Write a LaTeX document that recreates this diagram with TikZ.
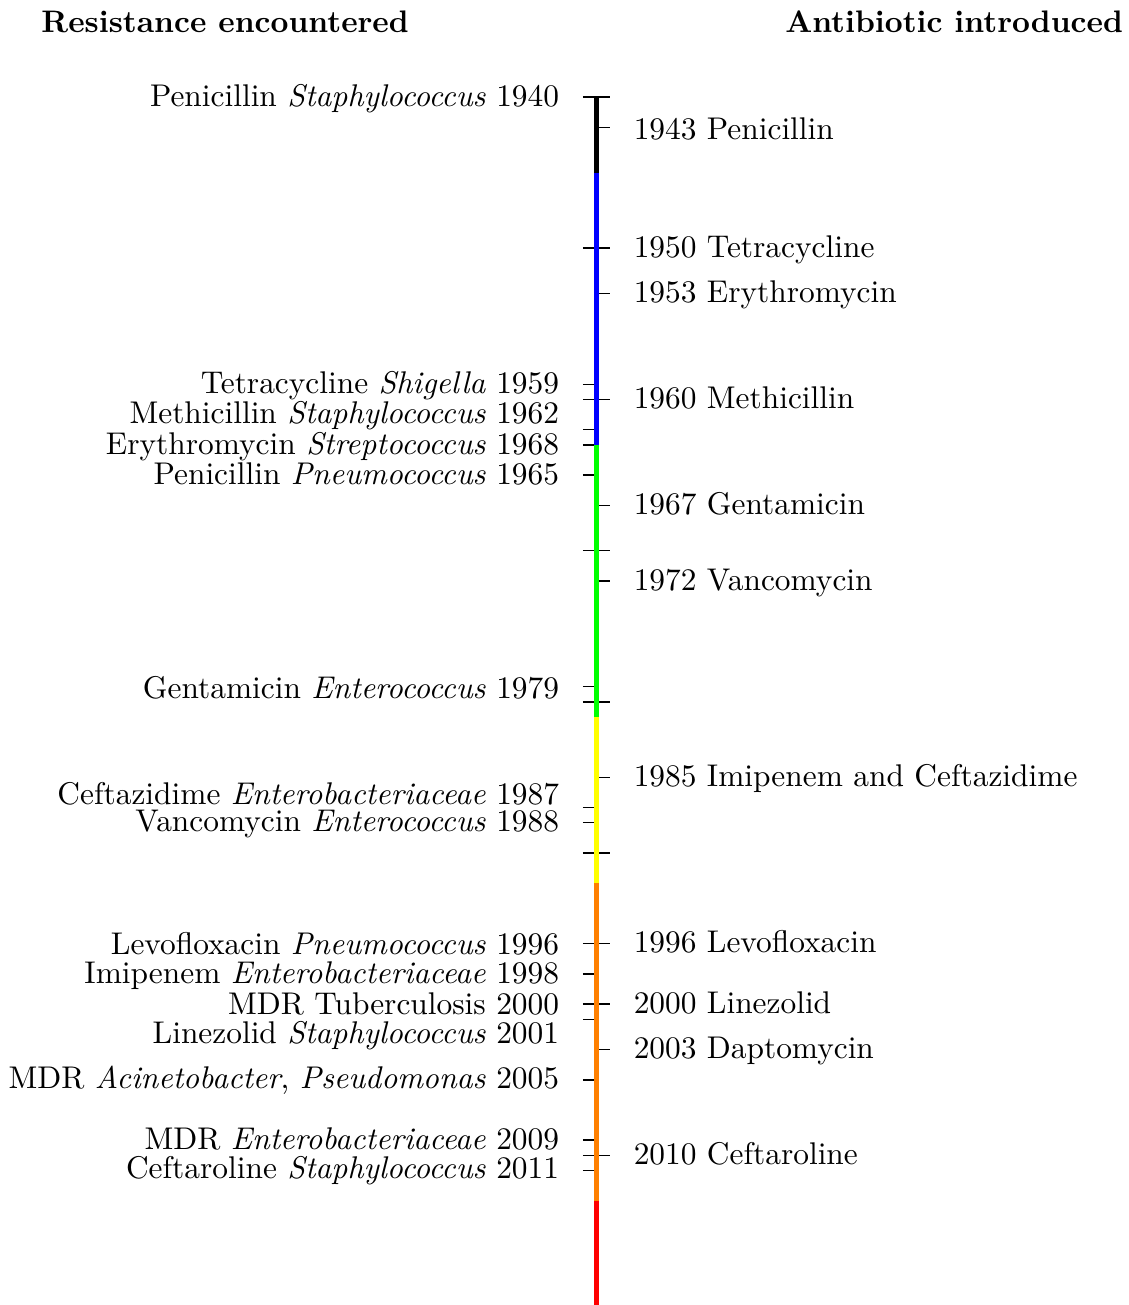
\documentclass[tikz,border=0pt]{standalone}
\usepackage{tikz}
\usepackage{xcolor}
\usetikzlibrary{positioning}
\definecolor{eraone}{HTML}{000000}
\definecolor{eratwo}{HTML}{0000FF}
\definecolor{erathree}{HTML}{00FF00}
\definecolor{erafour}{HTML}{FFFF00}
\definecolor{erafive}{HTML}{FF8000}
\definecolor{erasix}{HTML}{FF0000}
\tikzset{
  resist/.style={anchor=mid east, inner sep=0pt, yshift=-0.9pt,
    font=\fontsize{10.38}{12.5}\selectfont},
  intro/.style={anchor=mid west, inner sep=0pt, yshift=-0.9pt,
    font=\fontsize{10.38}{12.5}\selectfont},
  heading/.style={font=\fontsize{10.3}{12.4}\selectfont\bfseries, inner sep=0pt},
  tickmark/.style={line width=0.5pt},
  era/.style={line width=1.7pt}
}

\begin{document}
\begin{tikzpicture}[x=1pt, y=-5pt]
  \useasboundingbox (-197.4,-6.42) rectangle (175.9,79.9);
  % Headings
  \node[heading, anchor=mid west] (resisthead) at (-183.9,-4.7) {Resistance encountered};
  \node[heading, anchor=mid east] (introhead) at (174.2,-4.7) {Antibiotic introduced};
  % Decade ticks (both sides), y counts years after 1940
  \draw[tickmark] (-4.6,0) -- (4.4,0) (-4.6,10) -- (4.4,10)
    (-4.6,20) -- (4.4,20) (-4.6,30) -- (4.4,30);
  \draw[tickmark] (-4.6,40) -- (4.4,40) (-4.6,50) -- (4.4,50)
    (-4.6,60) -- (4.4,60) (-4.6,70) -- (4.4,70);
  % Resistance ticks (left)
  \draw[tickmark] (-4.6,19) -- (0,19) (-4.6,22) -- (0,22)
    (-4.6,23) -- (0,23) (-4.6,25) -- (0,25) (-4.6,39) -- (0,39);
  \draw[tickmark] (-4.6,47) -- (0,47) (-4.6,48) -- (0,48)
    (-4.6,56) -- (0,56) (-4.6,58) -- (0,58) (-4.6,61) -- (0,61);
  \draw[tickmark] (-4.6,65) -- (0,65) (-4.6,69) -- (0,69)
    (-4.6,71) -- (0,71);
  % Introduction ticks (right)
  \draw[tickmark] (0,2) -- (4.4,2) (0,13) -- (4.4,13)
    (0,27) -- (4.4,27) (0,32) -- (4.4,32) (0,45) -- (4.4,45);
  \draw[tickmark] (0,56) -- (4.4,56) (0,63) -- (4.4,63);
  % Coloured eras of the time line
  \draw[era, eraone] (0,0) -- (0,5);
  \draw[era, eratwo] (0,5) -- (0,23);
  \draw[era, erathree] (0,23) -- (0,41);
  \draw[era, erafour] (0,41) -- (0,52);
  \draw[era, erafive] (0,52) -- (0,73);
  \draw[era, erasix] (0,73) -- (0,80);
  % Resistance encountered
  \node[resist] (res1940) at (-12.3,0) {Penicillin \textit{Staphylococcus} 1940};
  \node[resist] (res1959) at (-12.3,19) {Tetracycline \textit{Shigella} 1959};
  \node[resist] (res1962) at (-12.3,21) {Methicillin \textit{Staphylococcus} 1962};
  \node[resist] (res1968) at (-12.3,23) {Erythromycin \textit{Streptococcus} 1968};
  \node[resist] (res1965) at (-12.3,25) {Penicillin \textit{Pneumococcus} 1965};
  \node[resist] (res1979) at (-12.3,39.2) {Gentamicin \textit{Enterococcus} 1979};
  \node[resist] (res1987) at (-12.3,46.2) {Ceftazidime \textit{Enterobacteriaceae} 1987};
  \node[resist] (res1988) at (-12.3,48) {Vancomycin \textit{Enterococcus} 1988};
  \node[resist] (res1996) at (-12.3,56.1) {Levofloxacin \textit{Pneumococcus} 1996};
  \node[resist] (res1998) at (-12.3,58) {Imipenem \textit{Enterobacteriaceae} 1998};
  \node[resist] (res2000) at (-12.3,60.1) {MDR Tuberculosis 2000};
  \node[resist] (res2001) at (-12.3,62) {Linezolid \textit{Staphylococcus} 2001};
  \node[resist] (res2005) at (-12.3,65) {MDR \textit{Acinetobacter}, \textit{Pseudomonas} 2005};
  \node[resist] (res2009) at (-12.3,69) {MDR \textit{Enterobacteriaceae} 2009};
  \node[resist] (res2011) at (-12.3,70.9) {Ceftaroline \textit{Staphylococcus} 2011};
  % Antibiotic introduced
  \node[intro] (int1943) at (12,2.2) {1943 Penicillin};
  \node[intro] (int1950) at (12,10) {1950 Tetracycline};
  \node[intro] (int1953) at (12,13) {1953 Erythromycin};
  \node[intro] (int1960) at (12,20) {1960 Methicillin};
  \node[intro] (int1967) at (12,27) {1967 Gentamicin};
  \node[intro] (int1972) at (12,32) {1972 Vancomycin};
  \node[intro] (int1985) at (12,45) {1985 Imipenem and Ceftazidime};
  \node[intro] (int1996) at (12,56) {1996 Levofloxacin};
  \node[intro] (int2000) at (12,60) {2000 Linezolid};
  \node[intro] (int2003) at (12,63) {2003 Daptomycin};
  \node[intro] (int2010) at (12,70) {2010 Ceftaroline};
\end{tikzpicture}
\end{document}
